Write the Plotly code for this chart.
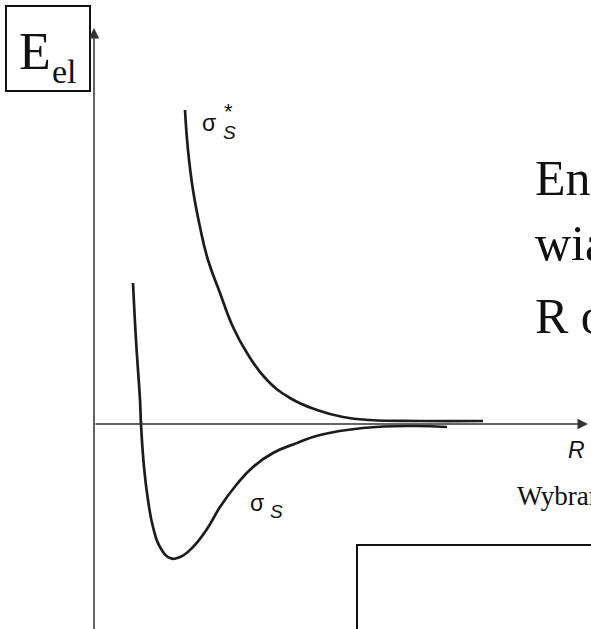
import plotly.graph_objects as go

# --- data (arbitrary units: R along the horizontal axis, E along the vertical) ---
R_bond = [0.39, 0.42, 0.46, 0.47, 0.50, 0.54, 0.59, 0.66, 0.76, 0.86, 0.99, 1.13, 1.26,
          1.43, 1.59, 1.79, 2.03, 2.26, 2.69, 3.19, 3.53]
E_bond = [1.41, 0.84, 0.24, 0.00, -0.43, -0.76, -1.03, -1.23, -1.34, -1.33, -1.23, -1.05, -0.83,
          -0.60, -0.43, -0.29, -0.19, -0.11, -0.04, -0.02, -0.03]
R_anti = [0.91, 0.94, 0.99, 1.06, 1.14, 1.26, 1.39, 1.53, 1.73, 1.96, 2.23, 2.49, 2.76, 3.26, 3.89]
E_anti = [3.14, 2.74, 2.34, 1.97, 1.64, 1.31, 0.97, 0.71, 0.44, 0.26, 0.14, 0.07, 0.04, 0.03, 0.03]

W, H = 591, 629
OX, OY, S = 94, 424, 100.0   # pixel position of origin and pixels per unit


def X(px):
    return (px - OX) / S


def Y(py):
    return (OY - py) / S


SERIF = "Liberation Serif, Times New Roman, serif"
SANS = "Liberation Sans, Arial, sans-serif"
INK = "#1c1c1c"

fig = go.Figure()
fig.add_trace(go.Scatter(x=R_anti, y=E_anti, mode="lines",
                         line=dict(color=INK, width=2.7, shape="spline", smoothing=1.3),
                         hoverinfo="skip"))
fig.add_trace(go.Scatter(x=R_bond, y=E_bond, mode="lines",
                         line=dict(color=INK, width=2.7, shape="spline", smoothing=1.3),
                         hoverinfo="skip"))

ann = []
# axes with arrows
ann.append(dict(x=X(94), y=Y(28), ax=X(94), ay=Y(650), xref="x", yref="y", axref="x", ayref="y",
                showarrow=True, arrowhead=2, arrowsize=1.4, arrowwidth=1.5, arrowcolor="#333", text=""))
ann.append(dict(x=X(588), y=Y(424), ax=X(94), ay=Y(424), xref="x", yref="y", axref="x", ayref="y",
                showarrow=True, arrowhead=2, arrowsize=1.4, arrowwidth=1.5, arrowcolor="#333", text=""))


def txt(t, px, py, size, family, anchor="left", color="#111"):
    ann.append(dict(x=X(px), y=Y(py), xref="x", yref="y", text=t, showarrow=False,
                    xanchor=anchor, yanchor="middle", font=dict(size=size, family=family, color=color)))


# E_el label in the box
txt("E", 17, 51, 52, SERIF)
txt("el", 50, 71, 34, SERIF)
# curve labels
txt("σ", 200, 123, 23, SANS)
txt("<i>S</i>", 221, 132, 19, SANS)
txt("*", 222, 111, 22, SANS)
txt("σ", 248, 503, 23, SANS)
txt("<i>S</i>", 268, 511, 19, SANS)
# axis label
txt("<i>R</i>", 566, 450, 23, SANS)
# text on the right, cut off by the page edge
txt("Energia", 533, 178, 50, SERIF)
txt("wiązania", 533, 243, 50, SERIF)
txt("R od", 533, 316, 50, SERIF)
txt("Wybrane", 515, 496, 27, SERIF)

shapes = [
    dict(type="rect", xref="x", yref="y", x0=X(6), y0=Y(6), x1=X(90), y1=Y(91),
         line=dict(color="#111", width=2), fillcolor="rgba(0,0,0,0)"),
    dict(type="rect", xref="x", yref="y", x0=X(357), y0=Y(545), x1=X(640), y1=Y(700),
         line=dict(color="#111", width=2), fillcolor="rgba(0,0,0,0)"),
]

fig.update_layout(
    width=W, height=H, margin=dict(l=0, r=0, t=0, b=0, pad=0),
    paper_bgcolor="white", plot_bgcolor="white", showlegend=False,
    xaxis=dict(range=[X(0), X(W)], visible=False, fixedrange=True),
    yaxis=dict(range=[Y(H), Y(0)], visible=False, fixedrange=True),
    annotations=ann, shapes=shapes,
)
fig.write_html("out.html", config={"displayModeBar": False},
               post_script="document.body.style.margin='0px';document.body.style.overflow='hidden';")
